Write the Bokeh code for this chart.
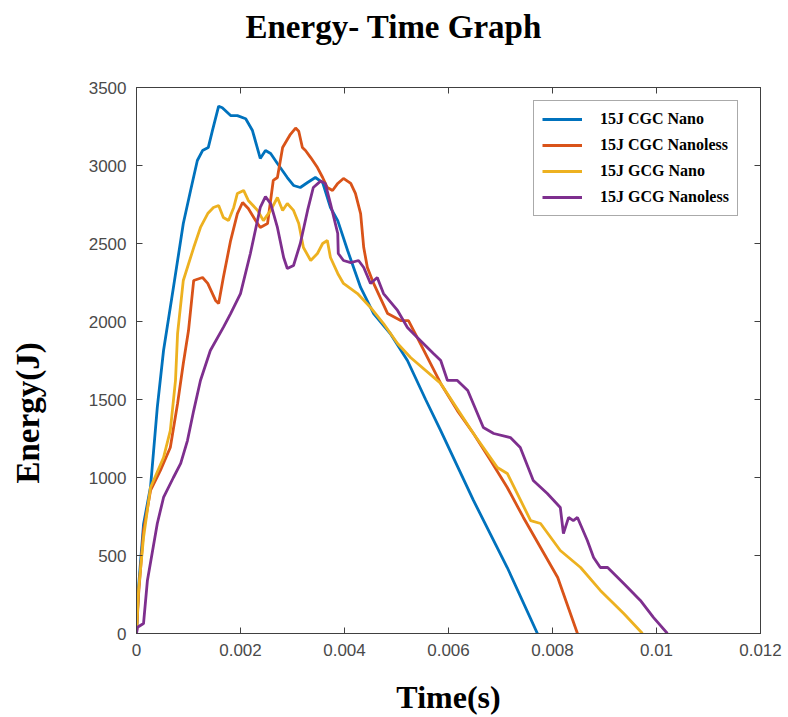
from bokeh.plotting import figure
from bokeh.models import Range1d, FixedTicker, LinearAxis, Legend, LegendItem, Title
from bokeh.embed import file_html
from bokeh.resources import INLINE

# ---- data ----
x_ticks = [0, 0.002, 0.004, 0.006, 0.008, 0.01, 0.012]
x_tick_labels = ["0", "0.002", "0.004", "0.006", "0.008", "0.01", "0.012"]
y_ticks = [0, 500, 1000, 1500, 2000, 2500, 3000, 3500]
y_tick_labels = ["0", "500", "1000", "1500", "2000", "2500", "3000", "3500"]

series_names = ["15J CGC Nano", "15J CGC Nanoless", "15J GCG Nano", "15J GCG Nanoless"]

cgc_nano_t = [0, 0.00004, 0.000135, 0.00027, 0.0004, 0.00052, 0.00071, 0.0009, 0.00104,
              0.00117, 0.00127, 0.00138, 0.00146, 0.00158, 0.00165, 0.00181, 0.00194,
              0.0021, 0.00223, 0.00238, 0.00248, 0.00258, 0.00271, 0.0029, 0.00302,
              0.00315, 0.00329, 0.00344, 0.00358, 0.00373, 0.00387, 0.00406, 0.00431,
              0.00456, 0.00488, 0.00521, 0.00556, 0.00585, 0.00648, 0.00713, 0.00771]
cgc_nano_e = [0, 300, 700, 940, 1450, 1814, 2218, 2628, 2840,
              3032, 3096, 3115, 3224, 3380, 3370, 3320, 3320,
              3300, 3224, 3045, 3096, 3077, 3013, 2923, 2872,
              2859, 2891, 2923, 2890, 2731, 2647, 2455, 2218,
              2051, 1923, 1750, 1500, 1301, 853, 423, 0]

cgc_nanoless_t = [0, 0.00004, 0.000135, 0.00027, 0.00046, 0.00065, 0.00079, 0.0009, 0.001,
                  0.0011, 0.00127, 0.00137, 0.00152, 0.00158, 0.00167, 0.00181, 0.00194,
                  0.00204, 0.00215, 0.00229, 0.00238, 0.00252, 0.00263, 0.00271, 0.00281,
                  0.00296, 0.00306, 0.00312, 0.00319, 0.00325, 0.00335, 0.00348, 0.00358,
                  0.00367, 0.00377, 0.00387, 0.00398, 0.00412, 0.00421, 0.00431, 0.00437,
                  0.00444, 0.00456, 0.00483, 0.00508, 0.00523, 0.0054, 0.00585, 0.00617,
                  0.00648, 0.00681, 0.00713, 0.00744, 0.00777, 0.0081, 0.00848]
cgc_nanoless_e = [0, 250, 660, 917, 1045, 1192, 1474, 1731, 1942,
                  2263, 2282, 2244, 2135, 2115, 2282, 2519, 2692,
                  2763, 2724, 2647, 2603, 2628, 2904, 2923, 3115,
                  3200, 3240, 3220, 3115, 3096, 3051, 2987, 2923,
                  2859, 2840, 2885, 2917, 2885, 2821, 2692, 2474,
                  2346, 2244, 2051, 2006, 2006, 1897, 1603, 1429,
                  1282, 1109, 936, 744, 551, 359, 0]

gcg_nano_t = [0, 0.00004, 0.000135, 0.00027, 0.00052, 0.00065, 0.00075, 0.00079, 0.0009,
              0.0011, 0.00123, 0.00137, 0.00148, 0.00158, 0.00167, 0.00177, 0.00187,
              0.00194, 0.00206, 0.00215, 0.00233, 0.00244, 0.00258, 0.00271, 0.00281,
              0.0029, 0.00302, 0.00312, 0.00321, 0.00335, 0.00348, 0.00358, 0.00367,
              0.00373, 0.00387, 0.00398, 0.00425, 0.0045, 0.00475, 0.00502, 0.00527,
              0.00585, 0.00648, 0.00694, 0.00713, 0.00758, 0.00777, 0.00815, 0.00854,
              0.00892, 0.00937, 0.00973]
gcg_nano_e = [0, 280, 615, 936, 1128, 1301, 1622, 1923, 2263,
              2474, 2603, 2692, 2731, 2744, 2667, 2647, 2731,
              2821, 2840, 2776, 2712, 2647, 2712, 2795, 2712,
              2756, 2712, 2628, 2474, 2391, 2436, 2500, 2519,
              2410, 2308, 2244, 2179, 2090, 1987, 1859, 1769,
              1603, 1282, 1064, 1026, 724, 705, 532, 423,
              276, 128, 0]

gcg_nanoless_t = [0, 0.00002, 0.000135, 0.00021, 0.0004, 0.00052, 0.00071, 0.00085, 0.00098,
                  0.0011, 0.00123, 0.00142, 0.00167, 0.00181, 0.002, 0.00219, 0.00238,
                  0.00248, 0.00258, 0.00271, 0.00283, 0.0029, 0.00302, 0.00315, 0.00329,
                  0.0034, 0.00354, 0.00363, 0.00373, 0.00387, 0.00388, 0.00398, 0.00412,
                  0.00427, 0.00437, 0.0045, 0.00463, 0.00475, 0.00502, 0.00521, 0.0054,
                  0.00571, 0.00585, 0.00598, 0.00617, 0.00637, 0.00667, 0.00687, 0.00719,
                  0.00738, 0.00763, 0.0079, 0.00815, 0.00821, 0.00831, 0.0084, 0.00848,
                  0.00867, 0.00879, 0.00892, 0.00906, 0.00937, 0.00969, 0.00994, 0.01021]
gcg_nanoless_e = [0, 40, 64, 340, 705, 872, 1000, 1090, 1237,
                  1429, 1622, 1814, 1962, 2051, 2179, 2436, 2731,
                  2800, 2756, 2603, 2410, 2340, 2359, 2500, 2712,
                  2859, 2900, 2885, 2756, 2564, 2436, 2391, 2378,
                  2391, 2346, 2244, 2282, 2179, 2071, 1962, 1897,
                  1795, 1750, 1622, 1622, 1558, 1320, 1282, 1256,
                  1192, 981, 897, 808, 641, 744, 724, 744,
                  596, 487, 423, 423, 321, 212, 103, 0]

colors = ["#0072BD", "#D95319", "#EDB120", "#7E2F8E"]

title_text = "Energy- Time Graph"
x_label_text = "Time(s)"
y_label_text = "Energy(J)"

# ---- figure ----
p = figure(width=788, height=717, output_backend="svg", toolbar_location=None,
           x_range=Range1d(0, 0.012), y_range=Range1d(0, 3500),
           min_border_left=136, min_border_right=28, min_border_top=87, min_border_bottom=84)

p.background_fill_color = "white"
p.border_fill_color = "white"
p.outline_line_color = "#404040"
p.outline_line_width = 1
p.grid.visible = False

p.title.text = title_text
p.title.align = "left"
p.title.offset = 109
p.title.vertical_align = "top"
p.title.standoff = 0
p.title.text_font = "Liberation Serif"
p.title.text_font_style = "bold"
p.title.text_font_size = "33px"
p.title.text_color = "black"

tick_font = "Liberation Sans"

def style_axis(ax, labels=True):
    ax.axis_line_color = "#404040"
    ax.major_tick_in = 6
    ax.major_tick_out = 0
    ax.minor_tick_line_color = None
    ax.major_tick_line_color = "#404040"
    ax.major_label_text_font = tick_font
    ax.major_label_text_font_size = "17px"
    ax.major_label_text_color = "#4a4a4a" if labels else None

xa = p.xaxis[0]
xa.ticker = FixedTicker(ticks=x_ticks)
xa.major_label_overrides = {t: s for t, s in zip(x_ticks, x_tick_labels)}
style_axis(xa)
xa.major_label_standoff = 10
xa.axis_label = x_label_text
xa.axis_label_text_font = "Liberation Serif"
xa.axis_label_text_font_style = "bold"
xa.axis_label_text_font_size = "32px"
xa.axis_label_text_color = "black"
xa.axis_label_standoff = 20

ya = p.yaxis[0]
ya.ticker = FixedTicker(ticks=y_ticks)
ya.major_label_overrides = {t: s for t, s in zip(y_ticks, y_tick_labels)}
style_axis(ya)
ya.major_label_standoff = 10

top_ax = LinearAxis(ticker=FixedTicker(ticks=x_ticks))
style_axis(top_ax, labels=False)
top_ax.major_label_text_font_size = "0px"
p.add_layout(top_ax, "above")

right_ax = LinearAxis(ticker=FixedTicker(ticks=y_ticks))
style_axis(right_ax, labels=False)
right_ax.major_label_text_font_size = "0px"
p.add_layout(right_ax, "right")

# empty spacer panels that push the titles outwards
top_spacer = Title(text=" ", text_font_size="1px", standoff=38)
p.add_layout(top_spacer, "above")
left_spacer = Title(text=" ", text_font_size="1px", standoff=35)
p.add_layout(left_spacer, "left")

# y-axis title, placed lower than the frame centre as in the reference
y_title = Title(text=y_label_text, align="left", offset=150, standoff=0, vertical_align="top",
                text_font="Liberation Serif", text_font_style="bold",
                text_font_size="33px", text_color="black")
p.add_layout(y_title, "left")

all_t = [cgc_nano_t, cgc_nanoless_t, gcg_nano_t, gcg_nanoless_t]
all_e = [cgc_nano_e, cgc_nanoless_e, gcg_nano_e, gcg_nanoless_e]
items = []
for name, t, e, c in zip(series_names, all_t, all_e, colors):
    r = p.line(t, e, line_color=c, line_width=2.8)
    items.append(LegendItem(label=name, renderers=[r]))

legend = Legend(items=items, location=(397, 417))
legend.label_text_font = "Liberation Serif"
legend.label_text_font_style = "bold"
legend.label_text_font_size = "16px"
legend.label_text_color = "black"
legend.glyph_width = 40
legend.glyph_height = 20
legend.label_height = 20
legend.spacing = 6
legend.padding = 8
legend.label_standoff = 18
legend.border_line_color = "#555555"
legend.border_line_width = 1
legend.background_fill_alpha = 1
p.add_layout(legend, "center")

open("out.html", "w").write(file_html(p, INLINE))
